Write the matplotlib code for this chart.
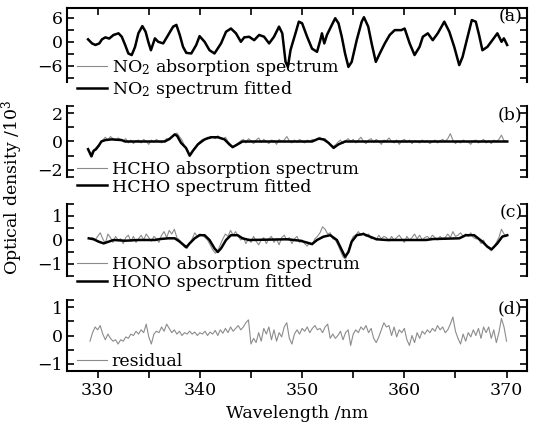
import numpy as np
import matplotlib
matplotlib.use("Agg")
import matplotlib.pyplot as plt

plt.rcParams['font.family'] = ['DejaVu Serif']
plt.rcParams['mathtext.fontset'] = 'dejavuserif'
plt.rcParams['font.size'] = 12.5

# wavelength grid of the measured (noisy) spectra, nm
wl = np.arange(329.25, 370.01, 0.25)

# ---- NO2 (panel a) ----
no2_wl = [329.06, 329.45, 329.78, 330.16, 330.42, 330.75, 331.13, 331.55, 332.04, 332.36,
          332.69, 333.0, 333.33, 333.66, 333.98, 334.37, 334.69, 334.95, 335.21, 335.6,
          335.92, 336.41, 336.9, 337.38, 337.7, 338.03, 338.35, 338.67, 339.16, 339.64,
          339.97, 340.46, 340.94, 341.43, 342.07, 342.56, 343.04, 343.53, 344.01, 344.34,
          344.82, 345.31, 345.8, 346.28, 346.77, 347.25, 347.74, 348.06, 348.38, 348.61,
          348.87, 349.35, 349.68, 350.0, 350.49, 350.97, 351.46, 351.78, 351.94, 352.17,
          352.43, 352.91, 353.24, 353.56, 353.88, 354.2, 354.53, 354.85, 355.34, 355.83,
          356.05, 356.47, 356.8, 357.21, 357.6, 358.09, 358.57, 359.06, 359.71, 360.03,
          360.52, 361.0, 361.49, 361.81, 362.3, 362.78, 363.27, 363.91, 364.4, 364.88,
          365.37, 365.7, 366.19, 366.6, 366.99, 367.31, 367.64, 368.13, 368.61, 369.1,
          369.51, 369.74, 370.06]
no2_fit = [0.6, -0.4, -0.8, -0.4, 0.6, 1.1, 0.8, 1.7, 2.1, 1.25,
           -0.8, -2.9, -3.3, -1.25, 2.1, 3.9, 2.5, 0.0, -2.1, 0.85,
           0.0, -0.4, 1.7, 3.75, 4.2, 1.7, -1.25, -2.75, -2.9, -0.8,
           1.4, 0.0, -2.1, -2.9, -0.4, 2.5, 3.3, 2.1, 0.0, 1.1,
           1.25, 0.4, 1.7, 1.25, -0.4, 1.25, 3.75, 2.1, -5.0, -6.25,
           -2.0, 2.1, 5.0, 4.6, 1.25, -1.7, -2.5, 0.4, 2.1, -0.4,
           1.7, 4.2, 5.85, 4.6, 1.25, -2.9, -6.25, -5.0, 0.4, 5.0,
           6.1, 3.75, -0.4, -5.0, -2.9, -0.4, 1.7, 2.9, 2.9, 3.3,
           -0.4, -3.3, -1.25, 1.25, 2.1, 0.4, 2.1, 5.0, 2.5, -1.25,
           -5.8, -3.75, 1.25, 5.4, 5.0, 1.7, -2.1, -1.25, 0.4, 2.1,
           0.0, 0.85, -0.8]
no2_abs = [0.8, -0.5, -0.6, -0.5, 0.7, 1.0, 0.9, 1.5, 2.2, 1.1,
           -0.7, -3.0, -3.2, -1.4, 2.0, 4.0, 2.4, 0.2, -2.2, 0.9,
           -0.1, -0.3, 1.6, 3.9, 4.1, 1.8, -1.1, -2.9, -2.8, -0.9,
           1.5, 0.1, -2.0, -3.0, -0.3, 2.6, 3.2, 2.2, -0.1, 1.2,
           1.1, 0.5, 1.6, 1.4, -0.5, 1.3, 3.9, 2.0, -5.1, -6.1,
           -2.1, 2.2, 4.9, 4.7, 1.1, -1.8, -2.4, 0.5, 2.0, -0.3,
           1.8, 4.1, 5.9, 4.5, 1.4, -3.0, -6.1, -5.1, 0.5, 4.9,
           6.2, 3.6, -0.3, -5.1, -2.8, -0.5, 1.8, 2.8, 3.0, 3.2,
           -0.5, -3.2, -1.4, 1.3, 2.0, 0.5, 2.2, 4.9, 2.6, -1.1,
           -5.9, -3.6, 1.1, 5.5, 4.9, 1.8, -2.2, -1.1, 0.3, 2.2,
           -0.1, 0.9, -0.7]

# ---- HCHO (panel b) ----
hcho_fit_pts = [(329.06, -0.54), (329.39, -1.05), (329.61, -0.65), (329.83, -0.55), (330.1, -0.3),
                (330.36, 0.0), (330.75, 0.1), (331.36, 0.15), (332.33, 0.1), (332.69, 0.0),
                (336.57, 0.0), (337.06, 0.2), (337.54, 0.5), (337.77, 0.4), (338.16, -0.1),
                (338.64, -0.45), (339.0, -1.0), (339.32, -0.65), (339.81, -0.2), (340.46, 0.15),
                (341.07, 0.3), (341.75, 0.3), (342.4, 0.15), (342.88, -0.2), (343.2, -0.4),
                (343.69, -0.2), (344.17, 0.0), (350.97, 0.0), (351.62, 0.2), (352.1, 0.15),
                (352.59, -0.1), (353.08, -0.45), (353.56, -0.2), (354.2, 0.0), (370.07, 0.0)]
hcho_abs = [-0.9, -0.7, -0.5, -0.3, -0.15, 0.1, 0.3, 0.1, 0.35, 0.2, 0.1, 0.25,
            0.15, 0.05, 0.2, -0.1, 0.1, -0.15, 0.05, 0.1, -0.1, 0.15, 0.0, -0.2,
            0.1, -0.05, 0.15, 0.0, -0.1, 0.05, 0.2, 0.1, 0.3, 0.45, 0.6, 0.35,
            0.1, -0.3, -0.55, -0.9, -0.75, -0.45, -0.2, 0.0, 0.15, 0.1, 0.3, 0.2,
            0.35, 0.2, 0.4, 0.25, 0.15, 0.3, 0.0, -0.2, -0.35, -0.25, -0.1, 0.05,
            0.15, -0.1, 0.2, 0.05, -0.15, 0.1, 0.25, -0.05, 0.15, 0.0, -0.15, 0.1,
            0.05, -0.2, 0.15, 0.0, 0.1, 0.35, 0.05, -0.1, 0.1, -0.05, 0.15, 0.0,
            -0.1, 0.1, 0.0, 0.15, 0.05, 0.2, 0.3, 0.1, 0.2, 0.0, -0.2, -0.35,
            -0.25, -0.05, 0.1, -0.15, 0.05, 0.2, 0.0, 0.15, -0.1, 0.1, 0.3, 0.0,
            -0.15, 0.1, 0.2, -0.05, 0.15, 0.0, -0.2, 0.1, 0.05, 0.25, 0.0, -0.1,
            0.1, -0.2, 0.05, 0.15, -0.05, 0.1, -0.15, 0.05, 0.0, -0.1, 0.1, -0.05,
            0.05, -0.15, 0.0, 0.1, -0.1, 0.05, 0.15, 0.0, 0.2, 0.55, 0.1, -0.15,
            0.05, -0.1, 0.1, 0.0, -0.05, -0.2, 0.05, 0.1, -0.1, 0.0, 0.15, -0.1,
            0.05, -0.15, 0.1, 0.0, 0.15, 0.45, 0.05, 0.0]

# ---- HONO (panel c) ----
hono_fit_pts = [(329.13, 0.07), (329.61, 0.03), (330.1, -0.07), (330.58, -0.14), (331.07, -0.07),
                (331.55, 0.0), (332.69, -0.03), (333.98, 0.0), (335.6, 0.0), (336.09, 0.04),
                (336.9, 0.07), (337.54, 0.07), (338.03, -0.07), (338.67, -0.3), (339.0, -0.14),
                (339.49, 0.07), (339.97, 0.2), (340.46, 0.2), (340.94, 0.0), (341.43, -0.35),
                (341.75, -0.5), (342.07, -0.35), (342.56, 0.0), (343.04, 0.2), (343.69, 0.2),
                (344.17, 0.07), (344.82, 0.0), (348.54, 0.03), (349.19, 0.0), (349.83, -0.03),
                (350.49, -0.11), (350.97, -0.17), (351.46, 0.0), (352.1, 0.14), (352.75, 0.2),
                (353.4, 0.0), (353.88, -0.42), (354.2, -0.7), (354.53, -0.5), (354.85, -0.07),
                (355.34, 0.2), (355.99, 0.25), (356.63, 0.14), (357.28, 0.03), (358.25, 0.0),
                (362.14, 0.0), (362.78, 0.04), (365.37, 0.07), (366.02, 0.2), (366.83, 0.2),
                (367.64, -0.07), (368.13, -0.28), (368.54, -0.39), (369.1, -0.14), (369.58, 0.14),
                (370.07, 0.2)]
hono_abs = [0.05, 0.1, 0.0, 0.15, 0.3, 0.05, -0.15, 0.25, 0.1, -0.1, 0.15, 0.0,
            0.05, -0.15, 0.1, 0.2, -0.05, 0.15, -0.1, 0.05, 0.2, 0.0, 0.25, 0.1,
            -0.05, 0.15, 0.05, -0.1, 0.2, 0.35, 0.1, 0.4, 0.25, 0.45, 0.1, 0.0,
            -0.15, -0.3, -0.35, -0.15, 0.05, 0.3, 0.15, 0.25, 0.2, 0.1, 0.0, -0.2,
            -0.4, -0.55, -0.45, -0.2, 0.05, 0.25, 0.15, 0.4, 0.2, 0.35, 0.15, 0.0,
            0.1, -0.15, 0.05, -0.1, 0.15, -0.05, -0.2, 0.0, 0.1, -0.15, 0.05, 0.15,
            -0.1, 0.05, -0.2, 0.1, 0.2, 0.0, 0.1, -0.15, 0.05, 0.15, -0.1, 0.0,
            -0.15, -0.25, -0.1, -0.2, 0.05, 0.15, 0.3, 0.55, 0.45, 0.25, 0.3, 0.05,
            0.0, -0.2, -0.45, -0.7, -0.8, -0.5, -0.1, 0.15, 0.2, 0.35, 0.2, 0.3,
            0.15, 0.25, 0.05, 0.1, 0.0, 0.2, 0.05, 0.15, 0.1, -0.05, 0.15, 0.0,
            0.1, 0.2, 0.05, -0.1, 0.15, 0.0, 0.1, 0.25, 0.05, 0.2, 0.0, 0.1,
            0.15, 0.05, 0.2, 0.1, 0.0, 0.15, 0.05, 0.1, 0.25, 0.1, 0.35, 0.15,
            0.2, 0.3, 0.15, 0.25, 0.15, 0.3, 0.1, 0.05, 0.05, -0.15, 0.0, -0.25,
            -0.35, -0.45, -0.3, -0.1, 0.1, 0.45, 0.25, 0.15]

# ---- residual (panel d) ----
residual = [-0.2, 0.1, 0.3, 0.2, 0.35, 0.05, -0.15, 0.05, -0.1, -0.2, -0.15, -0.3,
            -0.15, -0.2, -0.05, -0.1, 0.05, 0.0, 0.15, 0.05, 0.2, 0.1, 0.4, -0.05,
            -0.3, 0.05, 0.15, 0.1, 0.3, 0.15, 0.4, 0.25, 0.1, 0.2, 0.05, 0.15,
            0.0, 0.1, 0.05, 0.15, 0.05, 0.12, 0.0, 0.1, 0.05, 0.15, 0.0, 0.12,
            0.05, 0.18, 0.0, 0.2, 0.08, 0.25, 0.1, 0.3, 0.15, 0.25, 0.35, 0.2,
            0.3, 0.45, 0.55, -0.3, -0.1, -0.25, 0.1, -0.2, 0.25, 0.05, 0.3, -0.15,
            0.2, -0.2, 0.1, -0.05, 0.3, 0.45, -0.1, -0.3, 0.05, 0.2, 0.05, 0.25,
            0.15, 0.3, 0.1, 0.25, 0.35, 0.2, 0.25, 0.1, 0.3, 0.4, -0.1, 0.05,
            -0.1, 0.0, 0.15, -0.15, 0.1, 0.2, -0.35, 0.05, 0.2, 0.1, 0.3, 0.2,
            0.35, 0.1, 0.25, -0.1, -0.25, -0.05, 0.2, 0.45, 0.3, 0.35, 0.0, 0.3,
            -0.05, 0.2, 0.1, 0.25, -0.15, -0.35, 0.0, -0.25, 0.1, -0.1, 0.15, 0.05,
            0.2, 0.1, 0.25, 0.15, 0.35, 0.2, 0.3, 0.1, 0.2, 0.4, 0.65, 0.15,
            -0.1, -0.3, 0.05, -0.2, 0.1, -0.05, 0.2, 0.0, 0.25, -0.1, 0.3, 0.1,
            0.3, -0.1, 0.2, -0.25, 0.1, 0.6, 0.3, -0.2]

GRAY = '#8c8c8c'

W, H = 534, 430
fig = plt.figure(figsize=(W / 100, H / 100), dpi=100)

x0, x1 = 67, 527
# (top px, bottom px) of each panel
rows = [(8, 82), (106, 177), (204, 276), (300, 371)]
axes = []
for top, bot in rows:
    ax = fig.add_axes([x0 / W, 1 - bot / H, (x1 - x0) / W, (bot - top) / H])
    axes.append(ax)
ax_a, ax_b, ax_c, ax_d = axes

ax_a.plot(no2_wl, no2_abs, color=GRAY, lw=0.8, label='NO$_2$ absorption spectrum')
ax_a.plot(no2_wl, no2_fit, color='black', lw=1.8, label='NO$_2$ spectrum fitted')

hx, hy = zip(*hcho_fit_pts)
ax_b.plot(wl, hcho_abs, color=GRAY, lw=0.8, label='HCHO absorption spectrum')
ax_b.plot(hx, hy, color='black', lw=1.8, label='HCHO spectrum fitted')

ox, oy = zip(*hono_fit_pts)
ax_c.plot(wl, hono_abs, color=GRAY, lw=0.8, label='HONO absorption spectrum')
ax_c.plot(ox, oy, color='black', lw=1.8, label='HONO spectrum fitted')

ax_d.plot(wl, residual, color=GRAY, lw=0.8, label='residual')

ylims = [(-10, 8.4), (-2.5, 2.5), (-1.5, 1.5), (-1.25, 1.25)]
majors = [[-6, 0, 6], [-2, 0, 2], [-1, 0, 1], [-1, 0, 1]]
minors = [[-9, -3, 3], [-2.5, -1, 1, 2.5], [-1.5, -0.5, 0.5, 1.5], [-0.5, 0.5, 1.25]]
letters = ['(a)', '(b)', '(c)', '(d)']
leg_top = [0.34, 0.23, 0.28, 0.25]

for i, ax in enumerate(axes):
    ax.set_xlim(327, 372)
    ax.set_ylim(*ylims[i])
    ax.set_yticks(majors[i])
    ax.set_yticks(minors[i], minor=True)
    ax.set_yticklabels([str(v).replace('-', '\u2212') for v in majors[i]])
    ax.tick_params(axis='y', which='both', direction='in', left=True, right=True,
                   length=5, width=1.2, labelsize=12.5, pad=3)
    for s in ax.spines.values():
        s.set_linewidth(1.5)
    ax.text(0.99, 0.99, letters[i], transform=ax.transAxes, ha='right', va='top', fontsize=12.5)
    ax.legend(loc='upper left', bbox_to_anchor=(0.022, leg_top[i]), frameon=False,
              borderpad=0, borderaxespad=0, handlelength=1.7, handletextpad=0.3,
              labelspacing=0.05, fontsize=12.5)

for ax in (ax_a, ax_b, ax_c):
    ax.spines['bottom'].set_visible(False)
for ax in (ax_b, ax_c, ax_d):
    ax.spines['top'].set_visible(False)

for ax in (ax_b, ax_c):
    ax.tick_params(axis='x', which='both', bottom=False, top=False, labelbottom=False)

ax_a.set_xticks([330, 340, 350, 360, 370])
ax_a.set_xticks([335, 345, 355, 365], minor=True)
ax_a.tick_params(axis='x', which='both', bottom=False, top=True, labelbottom=False,
                 direction='in', length=5, width=1.2)

ax_d.set_xticks([330, 340, 350, 360, 370])
ax_d.set_xticks([335, 345, 355, 365], minor=True)
ax_d.tick_params(axis='x', which='both', bottom=True, top=False, direction='out',
                 length=5, width=1.2, labelsize=12.5, pad=3)
ax_d.set_xlabel('Wavelength /nm', fontsize=12.5, labelpad=4)

fig.text(12 / W, 1 - 187 / H, 'Optical density /10$^3$', rotation=90,
         ha='center', va='center', fontsize=12.5)

fig.savefig('out.png', dpi=100)
